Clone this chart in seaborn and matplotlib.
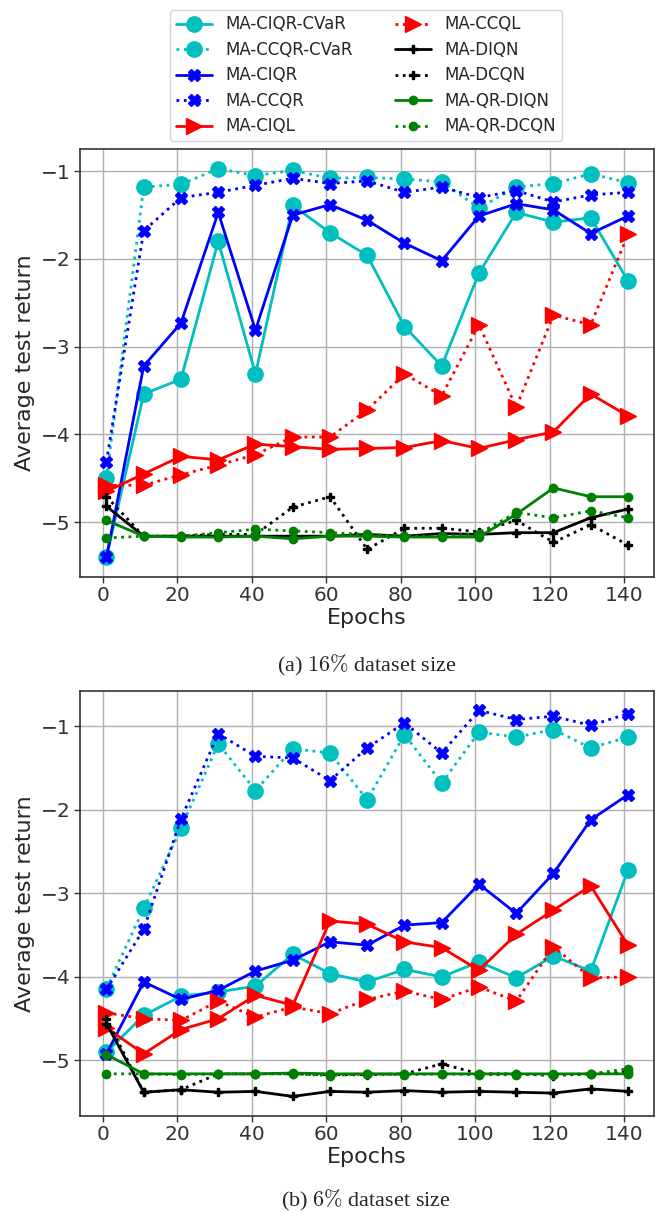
import numpy as np
import matplotlib
matplotlib.use("Agg")
import matplotlib.pyplot as plt
import seaborn as sns

sns.set_style("ticks", {"axes.grid": True, "grid.color": "#b0b0b0",
                        "axes.edgecolor": "#333333", "xtick.color": "#333333",
                        "ytick.color": "#333333"})
plt.rcParams["font.family"] = ["DejaVu Sans"]
plt.rcParams["mathtext.fontset"] = "cm"

epochs = [1, 11, 21, 31, 41, 51, 61, 71, 81, 91, 101, 111, 121, 131, 141]

# (a) 16% dataset size
a_ciqr_cvar = [-5.40, -3.54, -3.37, -1.80, -3.31, -1.39, -1.70, -1.96, -2.77, -3.22, -2.16, -1.47, -1.58, -1.53, -2.25]
a_ccqr_cvar = [-4.50, -1.18, -1.15, -0.97, -1.05, -0.99, -1.08, -1.07, -1.09, -1.12, -1.42, -1.18, -1.14, -1.03, -1.13]
a_ciqr = [-5.40, -3.22, -2.73, -1.47, -2.81, -1.50, -1.38, -1.56, -1.82, -2.02, -1.51, -1.37, -1.44, -1.71, -1.51]
a_ccqr = [-4.31, -1.68, -1.30, -1.24, -1.16, -1.08, -1.14, -1.11, -1.24, -1.18, -1.30, -1.22, -1.35, -1.27, -1.24]
a_ciql = [-4.65, -4.45, -4.25, -4.29, -4.11, -4.14, -4.17, -4.16, -4.15, -4.07, -4.16, -4.06, -3.97, -3.54, -3.79]
a_ccql = [-4.58, -4.58, -4.46, -4.35, -4.23, -4.03, -4.03, -3.72, -3.31, -3.56, -2.75, -3.69, -2.64, -2.75, -1.72]
a_diqn = [-4.82, -5.16, -5.16, -5.16, -5.16, -5.16, -5.16, -5.14, -5.16, -5.13, -5.14, -5.12, -5.12, -4.95, -4.85]
a_dcqn = [-4.71, -5.16, -5.16, -5.14, -5.14, -4.83, -4.71, -5.31, -5.07, -5.07, -5.11, -4.98, -5.23, -5.03, -5.26]
a_qr_diqn = [-4.98, -5.16, -5.17, -5.17, -5.16, -5.19, -5.16, -5.16, -5.17, -5.17, -5.17, -4.91, -4.61, -4.71, -4.71]
a_qr_dcqn = [-5.18, -5.16, -5.16, -5.12, -5.08, -5.10, -5.12, -5.14, -5.16, -5.16, -5.13, -4.89, -4.95, -4.87, -4.95]

# (b) 6% dataset size
b_ciqr_cvar = [-4.90, -4.46, -4.23, -4.18, -4.11, -3.73, -3.96, -4.06, -3.91, -4.00, -3.82, -4.01, -3.75, -3.93, -2.72]
b_ccqr_cvar = [-4.14, -3.18, -2.22, -1.21, -1.77, -1.27, -1.32, -1.88, -1.10, -1.68, -1.07, -1.13, -1.04, -1.26, -1.13]
b_ciqr = [-4.92, -4.06, -4.27, -4.16, -3.93, -3.80, -3.58, -3.62, -3.38, -3.35, -2.89, -3.24, -2.76, -2.12, -1.82]
b_ccqr = [-4.15, -3.43, -2.11, -1.09, -1.36, -1.38, -1.65, -1.26, -0.96, -1.32, -0.81, -0.92, -0.88, -0.99, -0.85]
b_ciql = [-4.61, -4.92, -4.63, -4.50, -4.22, -4.34, -3.33, -3.37, -3.58, -3.65, -3.92, -3.49, -3.20, -2.91, -3.62]
b_ccql = [-4.43, -4.50, -4.52, -4.29, -4.48, -4.36, -4.44, -4.27, -4.17, -4.27, -4.12, -4.29, -3.64, -4.01, -4.00]
b_diqn = [-4.56, -5.38, -5.35, -5.38, -5.37, -5.43, -5.37, -5.38, -5.36, -5.38, -5.37, -5.38, -5.39, -5.34, -5.37]
b_dcqn = [-4.50, -5.38, -5.35, -5.16, -5.16, -5.16, -5.17, -5.17, -5.16, -5.04, -5.16, -5.16, -5.18, -5.16, -5.14]
b_qr_diqn = [-4.93, -5.16, -5.16, -5.16, -5.16, -5.15, -5.16, -5.16, -5.16, -5.16, -5.16, -5.16, -5.16, -5.16, -5.16]
b_qr_dcqn = [-5.16, -5.16, -5.17, -5.16, -5.16, -5.16, -5.18, -5.16, -5.17, -5.16, -5.17, -5.17, -5.17, -5.16, -5.10]

names = ["MA-CIQR-CVaR", "MA-CCQR-CVaR", "MA-CIQR", "MA-CCQR", "MA-CIQL",
         "MA-CCQL", "MA-DIQN", "MA-DCQN", "MA-QR-DIQN", "MA-QR-DCQN"]
colors = ["c", "c", "b", "b", "r", "r", "k", "k", "g", "g"]
styles = ["-", ":", "-", ":", "-", ":", "-", ":", "-", ":"]
markers = ["o", "o", "X", "X", ">", ">", "P", "P", "o", "o"]
msizes = [11, 11, 9, 9, 12, 12, 6, 6, 6, 6]

panel_a = [a_ciqr_cvar, a_ccqr_cvar, a_ciqr, a_ccqr, a_ciql, a_ccql, a_diqn, a_dcqn, a_qr_diqn, a_qr_dcqn]
panel_b = [b_ciqr_cvar, b_ccqr_cvar, b_ciqr, b_ccqr, b_ciql, b_ccql, b_diqn, b_dcqn, b_qr_diqn, b_qr_dcqn]

fig = plt.figure(figsize=(6.59, 12.13), dpi=100)
ax_a = fig.add_axes([0.122, 0.5246, 0.8705, 0.3524])
ax_b = fig.add_axes([0.122, 0.0802, 0.8705, 0.3501])

for ax, panel in [(ax_a, panel_a), (ax_b, panel_b)]:
    for vals, name, c, ls, m, ms in zip(panel, names, colors, styles, markers, msizes):
        sns.lineplot(x=epochs, y=vals, ax=ax, color=c, linestyle=ls, marker=m,
                     markersize=ms, markeredgecolor=c, markeredgewidth=1,
                     linewidth=2, label=name, legend=False)
    ax.set_xlabel("Epochs", fontsize=16, labelpad=2)
    ax.set_ylabel("Average test return", fontsize=16, labelpad=4)
    ax.tick_params(labelsize=14.5, length=4, width=1, pad=3)
    ax.set_xticks(np.arange(0, 141, 20))
    ax.grid(True, color="#b0b0b0", linewidth=1)
    for s in ax.spines.values():
        s.set_linewidth(1.2)

handles, labels = ax_a.get_legend_handles_labels()
fig.legend(handles, labels, loc="upper center", bbox_to_anchor=(0.5554, 0.999),
           ncol=2, fontsize=12, frameon=True, edgecolor="#cccccc",
           handlelength=2.2, columnspacing=2.5, labelspacing=0.45,
           borderpad=0.35)

fig.text(0.556, 1 - 665 / 1213, r"(a) $16\%$ dataset size", ha="center", va="center",
         fontsize=16, family="Liberation Serif")
fig.text(0.556, 1 - 1200 / 1213, r"(b) $6\%$ dataset size", ha="center", va="center",
         fontsize=16, family="Liberation Serif")

fig.savefig("out.png", dpi=100)
